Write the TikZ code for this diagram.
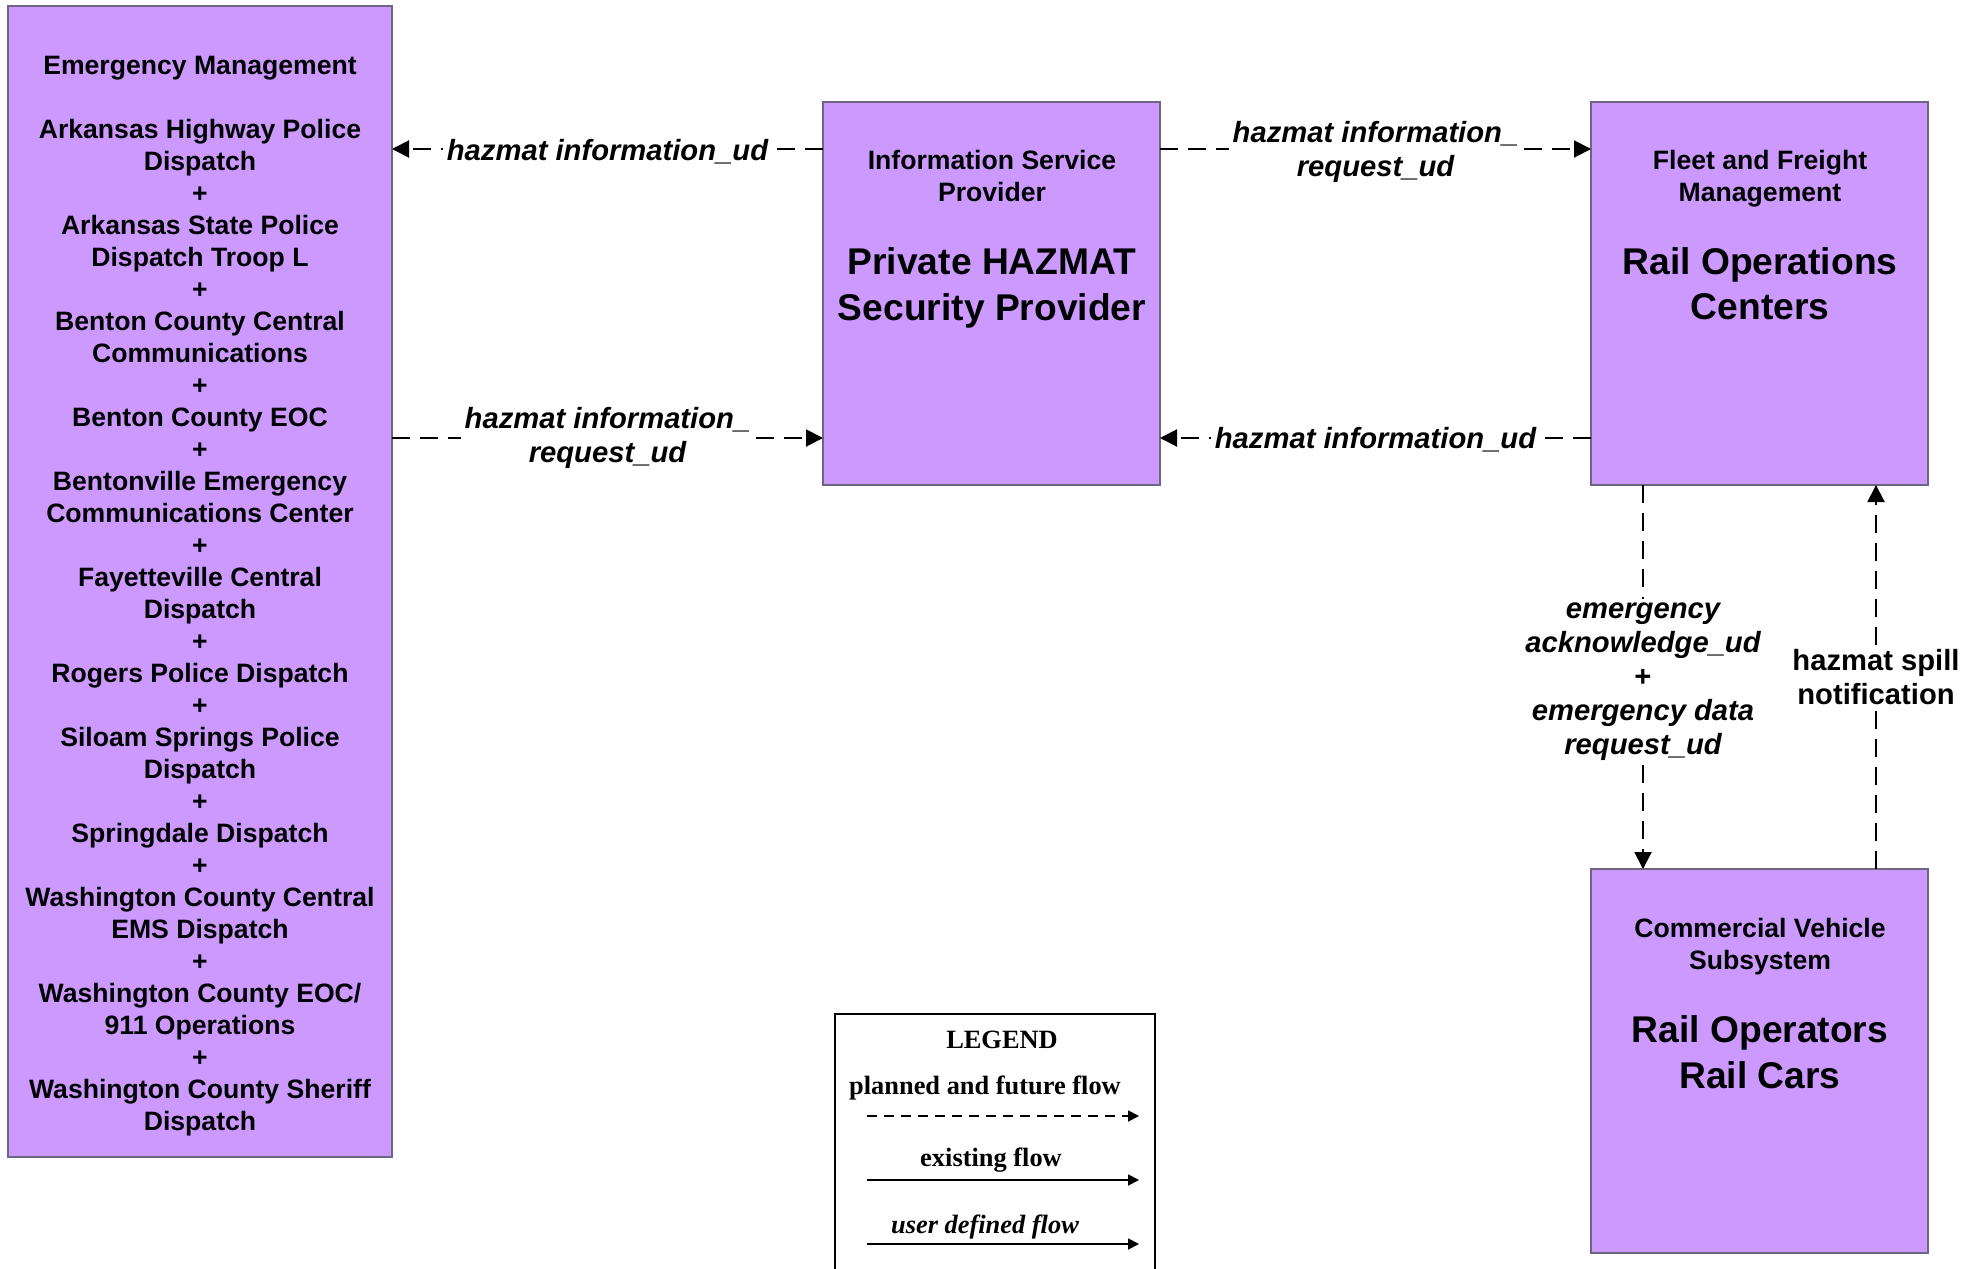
\documentclass[tikz,border=0pt]{standalone}
\usepackage{fontspec}
\setmainfont{Liberation Sans}
\newfontfamily\legfont{Liberation Serif}
\usetikzlibrary{arrows.meta}
\definecolor{boxfill}{HTML}{CC99FF}
\definecolor{boxline}{HTML}{6E6680}
\begin{document}
\begin{tikzpicture}[x=0.5pt,y=-0.5pt,
  box/.style={draw=boxline, fill=boxfill, line width=0.6pt, outer sep=0pt, inner sep=0pt},
  small/.style={font=\fontsize{13.3}{16}\selectfont\bfseries, align=center, inner sep=0pt},
  big/.style={font=\fontsize{18.6}{22.7}\selectfont\bfseries, align=center, inner sep=0pt},
  flow/.style={line width=1pt, dash pattern=on 9pt off 5pt, -{Triangle[length=8.5pt,width=8.5pt]}},
  lab/.style={font=\fontsize{14.6}{17}\selectfont\bfseries\itshape, align=center, fill=white, inner sep=2pt},
  labup/.style={font=\fontsize{14.6}{17}\selectfont\bfseries, align=center, fill=white, inner sep=2pt},
  legtext/.style={font=\legfont\fontsize{13.2}{16}\selectfont\bfseries, inner sep=0pt},
  legdash/.style={line width=0.9pt, dash pattern=on 5pt off 3.5pt, -{Triangle[length=5.5pt,width=5.5pt]}},
  legsolid/.style={line width=0.9pt, -{Triangle[length=5.5pt,width=5.5pt]}},
]
\useasboundingbox[fill=white] (0,0) rectangle (1977,1269);

% boxes
\node[box, minimum width=192pt, minimum height=575.5pt] (em) at (200,581.5) {};
\node[box, minimum width=168.5pt, minimum height=191.5pt] (isp) at (991.5,293.5) {};
\node[box, minimum width=168.5pt, minimum height=191.5pt] (fleet) at (1759.5,293.5) {};
\node[box, minimum width=168.5pt, minimum height=192pt] (cvs) at (1759.5,1061) {};

% box texts
\node[small] (emt) at (200,596) {Emergency Management\\[16pt]
Arkansas Highway Police\\Dispatch\\+\\Arkansas State Police\\Dispatch Troop L\\+\\
Benton County Central\\Communications\\+\\Benton County EOC\\+\\Bentonville Emergency\\
Communications Center\\+\\Fayetteville Central\\Dispatch\\+\\Rogers Police Dispatch\\+\\
Siloam Springs Police\\Dispatch\\+\\Springdale Dispatch\\+\\Washington County Central\\
EMS Dispatch\\+\\Washington County EOC/\\911 Operations\\+\\Washington County Sheriff\\Dispatch};
\node[small] (ispa) at (992,176) {Information Service\\Provider};
\node[big] (ispb) at (992,288) {Private HAZMAT\\Security Provider};
\node[small] (fleeta) at (1760,179) {Fleet and Freight\\Management};
\node[big] (fleetb) at (1760,283.5) {Rail Operations\\Centers};
\node[small] (cvsa) at (1760,947) {Commercial Vehicle\\Subsystem};
\node[big] (cvsb) at (1760,1052) {Rail Operators\\Rail Cars};

% connector rows/columns
\coordinate (r1) at (0,149);
\coordinate (r2) at (0,438);
\coordinate (c1) at (1643,0);
\coordinate (c2) at (1876,0);

\draw[flow] (isp.west |- r1) -- node[lab, yshift=-1.5pt] (l1) {hazmat information\_ud} (em.east |- r1);
\draw[flow] (isp.east |- r1) -- node[lab, yshift=-1.5pt] (l2) {hazmat information\_\\request\_ud} (fleet.west |- r1);
\draw[flow] (em.east |- r2) -- node[lab] (l3) {hazmat information\_\\request\_ud} (isp.west |- r2);
\draw[flow] (fleet.west |- r2) -- node[lab, yshift=-1pt] (l4) {hazmat information\_ud} (isp.east |- r2);
\draw[flow] (fleet.south -| c1) -- node[lab, yshift=-2.5pt] (l5) {emergency\\acknowledge\_ud\\\textup{+}\\emergency data\\request\_ud} (cvs.north -| c1);
\draw[flow] (cvs.north -| c2) -- node[labup] (l6) {hazmat spill\\notification} (fleet.south -| c2);

% legend
\draw[line width=1pt] (835,1269) -- (835,1014) -- (1155,1014) -- (1155,1269);
\node[legtext] (lg) at (1002,1040) {LEGEND};
\node[legtext] (lg1) at (985,1088) {planned and future flow};
\node[legtext] (lg2) at (991,1160) {existing flow};
\node[legtext, font=\legfont\fontsize{13.2}{16}\selectfont\bfseries\itshape] (lg3) at (985,1227) {user defined flow};
\coordinate (a1) at (867,1116); \coordinate (b1) at (1139,1116);
\coordinate (a2) at (867,1180); \coordinate (b2) at (1139,1180);
\coordinate (a3) at (867,1244); \coordinate (b3) at (1139,1244);
\draw[legdash] (a1) -- (b1);
\draw[legsolid] (a2) -- (b2);
\draw[legsolid] (a3) -- (b3);
\end{tikzpicture}
\end{document}
